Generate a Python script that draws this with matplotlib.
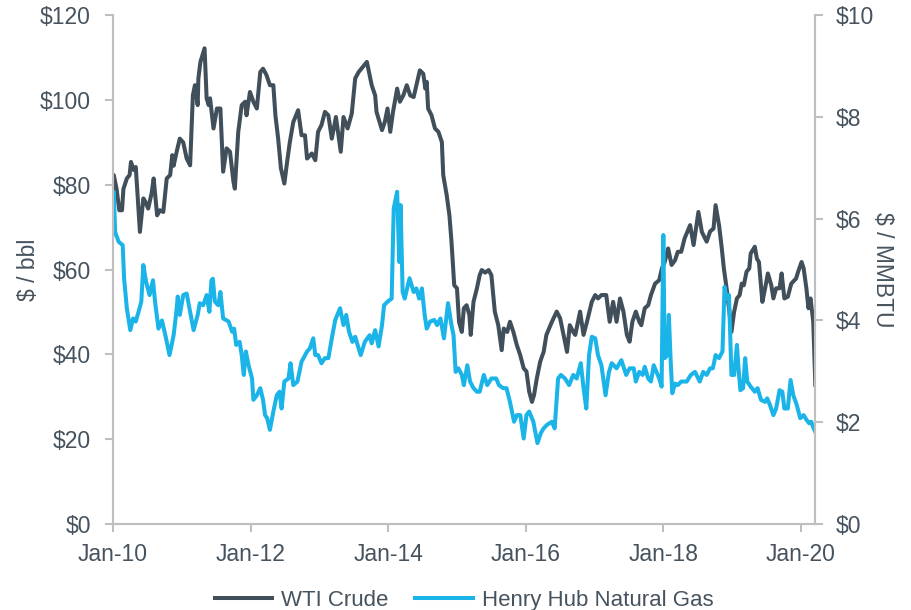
import matplotlib
matplotlib.use("Agg")
import matplotlib.pyplot as plt
from matplotlib.ticker import FuncFormatter

# weekly-ish readings, decimal years
wti_t = [2010.00, 2010.01, 2010.05, 2010.09, 2010.13, 2010.15, 2010.20, 2010.24, 2010.26, 2010.30,
         2010.33, 2010.39, 2010.44, 2010.47, 2010.51, 2010.56, 2010.59, 2010.64, 2010.68, 2010.73,
         2010.78, 2010.83, 2010.86, 2010.88, 2010.93, 2010.97, 2011.02, 2011.07, 2011.12, 2011.16,
         2011.19, 2011.23, 2011.24, 2011.27, 2011.33, 2011.36, 2011.39, 2011.41, 2011.46, 2011.51,
         2011.56, 2011.60, 2011.65, 2011.70, 2011.75, 2011.77, 2011.82, 2011.87, 2011.92, 2011.94,
         2011.99, 2012.04, 2012.09, 2012.14, 2012.18, 2012.23, 2012.28, 2012.33, 2012.36, 2012.40,
         2012.44, 2012.49, 2012.53, 2012.57, 2012.62, 2012.69, 2012.74, 2012.79, 2012.82, 2012.89,
         2012.94, 2012.98, 2013.03, 2013.08, 2013.13, 2013.18, 2013.24, 2013.31, 2013.35, 2013.41,
         2013.47, 2013.52, 2013.57, 2013.61, 2013.69, 2013.76, 2013.81, 2013.83, 2013.91, 2013.95,
         2013.99, 2014.03, 2014.07, 2014.13, 2014.17, 2014.22, 2014.27, 2014.32, 2014.37, 2014.41,
         2014.46, 2014.51, 2014.54, 2014.56, 2014.58, 2014.63, 2014.68, 2014.73, 2014.78, 2014.80,
         2014.85, 2014.89, 2014.92, 2014.96, 2015.00, 2015.03, 2015.07, 2015.10, 2015.14, 2015.18,
         2015.20, 2015.24, 2015.29, 2015.33, 2015.36, 2015.41, 2015.46, 2015.50, 2015.55, 2015.60,
         2015.65, 2015.68, 2015.73, 2015.77, 2015.82, 2015.87, 2015.92, 2015.97, 2016.01, 2016.05,
         2016.09, 2016.12, 2016.16, 2016.21, 2016.26, 2016.30, 2016.38, 2016.45, 2016.50, 2016.55,
         2016.60, 2016.64, 2016.69, 2016.72, 2016.79, 2016.84, 2016.89, 2016.96, 2017.01, 2017.05,
         2017.10, 2017.17, 2017.22, 2017.27, 2017.32, 2017.37, 2017.42, 2017.47, 2017.51, 2017.55,
         2017.60, 2017.65, 2017.68, 2017.73, 2017.78, 2017.82, 2017.88, 2017.94, 2017.98, 2018.02,
         2018.07, 2018.12, 2018.17, 2018.21, 2018.26, 2018.31, 2018.39, 2018.44, 2018.51, 2018.56,
         2018.63, 2018.68, 2018.73, 2018.76, 2018.81, 2018.85, 2018.88, 2018.92, 2018.96, 2018.99,
         2019.03, 2019.07, 2019.11, 2019.14, 2019.17, 2019.21, 2019.25, 2019.27, 2019.33, 2019.36,
         2019.39, 2019.44, 2019.48, 2019.52, 2019.57, 2019.60, 2019.64, 2019.69, 2019.72, 2019.76,
         2019.81, 2019.86, 2019.93, 2019.96, 2020.01, 2020.04, 2020.08, 2020.11, 2020.14, 2020.18,
         2020.21]
wti = [72.0, 82.3, 79.1, 74.0, 74.0, 79.0, 81.5, 82.3, 85.4, 83.5,
       84.2, 68.9, 76.8, 76.0, 74.4, 78.0, 81.5, 72.8, 74.0, 73.6,
       81.5, 82.3, 87.0, 84.5, 88.2, 90.9, 90.0, 86.2, 84.6, 101.1,
       103.5, 98.8, 105.1, 109.0, 112.2, 100.4, 98.8, 100.4, 93.3, 98.0,
       98.0, 83.1, 88.6, 87.8, 80.7, 79.1, 92.5, 98.8, 99.6, 96.4,
       101.9, 99.6, 98.0, 106.6, 107.4, 105.9, 103.5, 103.5, 96.4, 90.9,
       83.9, 80.3, 85.4, 90.1, 94.8, 97.6, 91.7, 91.7, 86.2, 87.4,
       85.8, 92.5, 94.1, 97.2, 96.4, 90.9, 96.0, 87.8, 96.0, 93.3,
       96.8, 105.1, 106.6, 107.4, 109.0, 103.5, 101.1, 97.2, 92.9, 94.8,
       98.0, 92.5, 97.2, 102.7, 99.6, 101.1, 103.5, 101.1, 100.7, 103.5,
       107.0, 106.2, 102.7, 104.3, 98.0, 96.4, 93.3, 92.5, 90.1, 82.3,
       77.6, 72.8, 66.6, 56.3, 55.6, 47.7, 45.3, 50.9, 51.6, 49.3,
       44.6, 52.4, 55.6, 58.7, 59.9, 59.3, 59.9, 58.7, 50.1, 46.9,
       41.0, 46.1, 45.3, 47.7, 45.3, 42.2, 39.8, 36.7, 36.0, 31.2,
       28.8, 30.4, 34.3, 38.3, 40.6, 44.6, 47.7, 50.1, 48.5, 44.6,
       40.6, 46.9, 45.3, 44.6, 50.1, 44.6, 47.7, 52.4, 54.0, 53.2,
       54.0, 54.0, 47.7, 52.4, 47.7, 53.2, 50.1, 44.6, 43.0, 47.7,
       50.1, 47.7, 46.9, 50.9, 51.6, 54.0, 56.7, 57.5, 60.3, 61.8,
       65.0, 61.1, 62.2, 64.2, 64.2, 67.4, 70.5, 65.8, 73.6, 68.9,
       66.6, 69.0, 69.7, 75.2, 70.5, 65.0, 60.3, 55.6, 50.1, 45.3,
       50.1, 53.2, 54.0, 56.7, 56.3, 59.5, 60.3, 63.8, 65.4, 62.6,
       61.8, 52.4, 55.6, 59.1, 56.3, 53.2, 55.6, 55.6, 59.1, 53.2,
       53.6, 56.7, 57.9, 59.5, 61.8, 60.3, 55.6, 50.9, 53.2, 47.7,
       32.8]

gas_t = [2010.00, 2010.01, 2010.03, 2010.08, 2010.14, 2010.16, 2010.20, 2010.25, 2010.29, 2010.33,
         2010.37, 2010.41, 2010.44, 2010.48, 2010.53, 2010.58, 2010.61, 2010.66, 2010.71, 2010.76,
         2010.82, 2010.88, 2010.92, 2010.94, 2010.97, 2011.02, 2011.07, 2011.12, 2011.17, 2011.23,
         2011.26, 2011.31, 2011.36, 2011.40, 2011.43, 2011.45, 2011.48, 2011.53, 2011.56, 2011.60,
         2011.68, 2011.73, 2011.76, 2011.79, 2011.84, 2011.87, 2011.90, 2011.93, 2011.97, 2012.02,
         2012.04, 2012.09, 2012.14, 2012.18, 2012.21, 2012.24, 2012.28, 2012.33, 2012.38, 2012.42,
         2012.45, 2012.49, 2012.55, 2012.58, 2012.62, 2012.68, 2012.74, 2012.82, 2012.86, 2012.91,
         2012.94, 2012.98, 2013.03, 2013.08, 2013.13, 2013.18, 2013.23, 2013.30, 2013.35, 2013.39,
         2013.43, 2013.48, 2013.52, 2013.60, 2013.66, 2013.73, 2013.76, 2013.81, 2013.86, 2013.91,
         2013.94, 2013.99, 2014.05, 2014.08, 2014.13, 2014.16, 2014.18, 2014.21, 2014.24, 2014.31,
         2014.37, 2014.41, 2014.45, 2014.49, 2014.53, 2014.56, 2014.61, 2014.67, 2014.71, 2014.76,
         2014.81, 2014.87, 2014.92, 2014.95, 2014.98, 2015.02, 2015.07, 2015.10, 2015.15, 2015.19,
         2015.24, 2015.29, 2015.33, 2015.39, 2015.44, 2015.50, 2015.57, 2015.61, 2015.67, 2015.72,
         2015.77, 2015.83, 2015.87, 2015.92, 2015.97, 2016.01, 2016.05, 2016.11, 2016.17, 2016.22,
         2016.26, 2016.31, 2016.38, 2016.42, 2016.47, 2016.51, 2016.57, 2016.63, 2016.69, 2016.74,
         2016.80, 2016.84, 2016.88, 2016.92, 2016.96, 2017.01, 2017.05, 2017.10, 2017.16, 2017.21,
         2017.25, 2017.32, 2017.39, 2017.46, 2017.51, 2017.57, 2017.60, 2017.65, 2017.70, 2017.73,
         2017.78, 2017.82, 2017.86, 2017.90, 2017.94, 2017.975, 2018.00, 2018.02, 2018.06, 2018.08,
         2018.105, 2018.13, 2018.17, 2018.21, 2018.26, 2018.34, 2018.40, 2018.46, 2018.53, 2018.58,
         2018.63, 2018.68, 2018.72, 2018.76, 2018.81, 2018.86, 2018.89, 2018.92, 2018.955, 2018.99,
         2019.03, 2019.07, 2019.09, 2019.12, 2019.16, 2019.19, 2019.22, 2019.27, 2019.33, 2019.37,
         2019.42, 2019.48, 2019.51, 2019.55, 2019.60, 2019.64, 2019.69, 2019.73, 2019.76, 2019.81,
         2019.85, 2019.89, 2019.94, 2019.99, 2020.04, 2020.08, 2020.12, 2020.15, 2020.18, 2020.21]
gas = [5.70, 6.53, 5.74, 5.55, 5.48, 4.83, 4.24, 3.81, 4.04, 3.98,
       4.17, 4.37, 5.09, 4.76, 4.50, 4.79, 4.37, 3.84, 4.00, 3.71,
       3.32, 3.71, 4.17, 4.47, 4.11, 4.50, 4.53, 4.17, 3.81, 4.11,
       4.34, 4.30, 4.50, 4.17, 4.79, 4.82, 4.37, 4.30, 4.56, 4.04,
       3.98, 3.78, 3.84, 3.52, 3.58, 3.32, 2.93, 3.39, 3.12, 2.86,
       2.44, 2.53, 2.67, 2.44, 2.14, 2.08, 1.85, 2.21, 2.53, 2.60,
       2.27, 2.80, 2.86, 3.16, 2.73, 2.80, 3.19, 3.39, 3.45, 3.65,
       3.32, 3.32, 3.16, 3.26, 3.26, 3.65, 4.01, 4.24, 3.91, 4.11,
       3.78, 3.58, 3.68, 3.32, 3.58, 3.71, 3.55, 3.81, 3.49, 3.91,
       4.30, 4.37, 4.43, 6.20, 6.53, 5.15, 6.27, 4.56, 4.43, 4.83,
       4.56, 4.63, 4.43, 4.63, 4.11, 3.84, 3.98, 4.01, 3.91, 4.04,
       3.65, 4.34, 3.91, 3.71, 2.99, 3.06, 2.93, 2.73, 3.12, 2.80,
       2.67, 2.60, 2.60, 2.93, 2.73, 2.86, 2.86, 2.73, 2.67, 2.67,
       2.40, 2.01, 2.14, 2.14, 1.68, 2.14, 2.21, 2.01, 1.59, 1.79,
       1.88, 1.95, 2.01, 1.88, 2.86, 2.93, 2.86, 2.73, 2.93, 2.86,
       3.16, 2.67, 2.27, 3.32, 3.68, 3.65, 3.32, 3.12, 2.53, 2.99,
       3.16, 3.06, 3.22, 2.93, 3.06, 3.06, 2.80, 2.99, 2.93, 3.09,
       2.86, 2.80, 3.12, 2.99, 2.86, 2.70, 5.68, 3.26, 3.32, 4.11,
       3.26, 2.57, 2.76, 2.73, 2.80, 2.80, 2.93, 2.99, 2.80, 2.99,
       2.93, 3.06, 3.06, 3.32, 3.26, 3.39, 4.66, 4.43, 4.50, 2.93,
       2.93, 3.52, 3.12, 2.63, 2.67, 3.26, 2.80, 2.70, 2.60, 2.67,
       2.44, 2.40, 2.47, 2.34, 2.14, 2.27, 2.63, 2.60, 2.27, 2.27,
       2.83, 2.53, 2.34, 2.08, 2.14, 2.05, 1.98, 2.01, 1.90, 1.81]

tick_years = [2010, 2012, 2014, 2016, 2018, 2020]
tick_labels = ["Jan-10", "Jan-12", "Jan-14", "Jan-16", "Jan-18", "Jan-20"]

text_c = "#46535e"
spine_c = "#bfbfbf"
wti_c = "#414f5a"
gas_c = "#1ab4e8"

plt.rcParams["font.family"] = ["Liberation Sans", "DejaVu Sans"]

fig = plt.figure(figsize=(9.12, 6.10), dpi=100)
ax = fig.add_axes([0.124, 0.141, 0.770, 0.834])
ax2 = ax.twinx()

l1, = ax.plot(wti_t, wti, color=wti_c, lw=2.9, label="WTI Crude", solid_joinstyle="round")
l2, = ax2.plot(gas_t, gas, color=gas_c, lw=2.9, label="Henry Hub Natural Gas", solid_joinstyle="round")

ax.set_xlim(2010, 2020.21)
ax.set_ylim(0, 120)
ax2.set_ylim(0, 10)
ax.set_yticks(range(0, 121, 20))
ax2.set_yticks(range(0, 11, 2))
ax.yaxis.set_major_formatter(FuncFormatter(lambda v, p: f"${v:.0f}"))
ax2.yaxis.set_major_formatter(FuncFormatter(lambda v, p: f"${v:.0f}"))
ax.set_xticks(tick_years)
ax.set_xticklabels(tick_labels)

for a in (ax, ax2):
    a.spines["top"].set_visible(False)
    for s in ("left", "right", "bottom"):
        a.spines[s].set_color(spine_c)
        a.spines[s].set_linewidth(1.5)
    a.tick_params(colors=spine_c, labelcolor=text_c, labelsize=16.5, length=6, width=1.5)
ax.tick_params(axis="y", pad=10)
ax2.tick_params(axis="y", pad=9)
ax.tick_params(axis="x", pad=8)

ax.set_ylabel("$ / bbl", fontsize=16.5, color=text_c, labelpad=0)
ax2.set_ylabel("$ / MMBTU", fontsize=16.5, color=text_c, rotation=270, labelpad=14)

ax.legend(handles=[l1, l2], loc="upper center", bbox_to_anchor=(0.5, -0.09), ncol=2,
          frameon=False, fontsize=16, labelcolor=text_c, handlelength=2.6,
          handletextpad=0.4, columnspacing=1.2)

fig.savefig("out.png", dpi=100)
